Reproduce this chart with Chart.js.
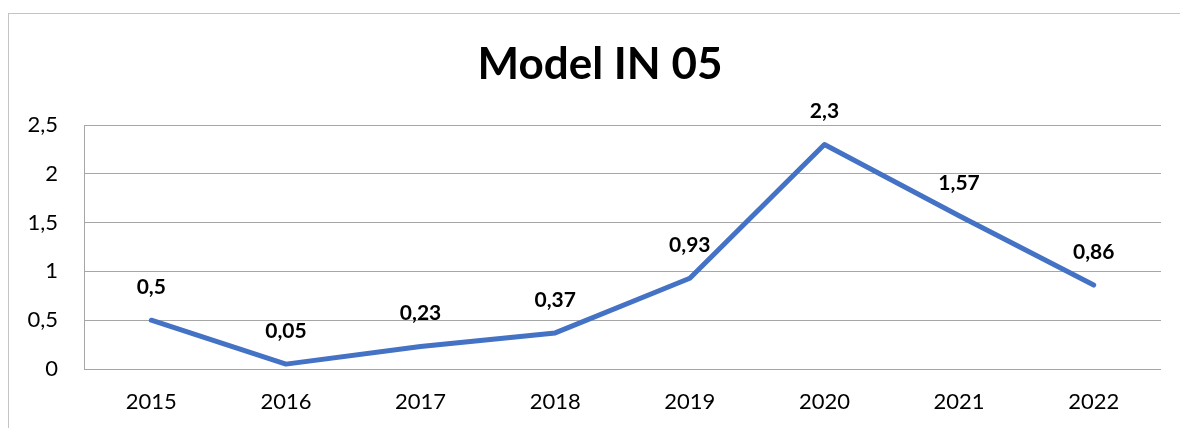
<!DOCTYPE html>
<html>
<head>
<meta charset="utf-8">
<script src="https://cdn.jsdelivr.net/npm/chart.js@4.4.1/dist/chart.umd.min.js"></script>
<style>
  html, body { margin: 0; padding: 0; background: #ffffff; overflow: hidden; }
  #wrap { position: relative; width: 1180px; height: 428px; }
  #frame { position: absolute; left: 8px; top: 13px; width: 1300px; height: 600px;
           border-left: 1px solid #c4c4c4; border-top: 1px solid #c4c4c4; box-sizing: border-box; }
  canvas { position: absolute; left: 0; top: 0; }
</style>
</head>
<body>
<div id="wrap">
  <div id="frame"></div>
  <canvas id="c" width="1180" height="428"></canvas>
</div>
<script>
const chartTitle = 'Model IN 05';
const years = ['2015', '2016', '2017', '2018', '2019', '2020', '2021', '2022'];
const values = [0.5, 0.05, 0.23, 0.37, 0.93, 2.3, 1.57, 0.86];
const yTickValues = [0, 0.5, 1, 1.5, 2, 2.5];
const yTickLabels = ['0', '0,5', '1', '1,5', '2', '2,5'];

const fontFamily = 'Lato, "Open Sans", "Liberation Sans", sans-serif';

const valueLabels = {
  id: 'valueLabels',
  afterDatasetsDraw(chart) {
    const ctx = chart.ctx;
    const meta = chart.getDatasetMeta(0);
    ctx.save();
    ctx.font = 'bold 21px ' + fontFamily;
    ctx.fillStyle = '#000000';
    ctx.textAlign = 'center';
    ctx.textBaseline = 'middle';
    meta.data.forEach((pt, i) => {
      const txt = String(values[i]).replace('.', ',');
      ctx.fillText(txt, pt.x, pt.y - 33);
    });
    ctx.restore();
  }
};

const titleDraw = {
  id: 'titleDraw',
  afterDraw(chart) {
    const ctx = chart.ctx;
    ctx.save();
    ctx.font = 'bold 44px ' + fontFamily;
    ctx.fillStyle = '#000000';
    ctx.textAlign = 'center';
    ctx.textBaseline = 'middle';
    ctx.fillText(chartTitle, 600, 65);
    ctx.restore();
  }
};

new Chart(document.getElementById('c'), {
  type: 'line',
  data: {
    labels: years,
    datasets: [{
      data: values,
      borderColor: '#4472c4',
      borderWidth: 5,
      borderCapStyle: 'round',
      borderJoinStyle: 'round',
      pointRadius: 0,
      pointHoverRadius: 0,
      tension: 0,
      fill: false
    }]
  },
  options: {
    responsive: false,
    animation: false,
    events: [],
    layout: { padding: { left: 0, right: 19, top: 125, bottom: 0 } },
    plugins: {
      legend: { display: false },
      tooltip: { enabled: false },
      title: { display: false }
    },
    scales: {
      x: {
        offset: true,
        grid: { display: false, drawTicks: false },
        border: { display: false },
        ticks: {
          color: '#000000',
          font: { family: fontFamily, size: 22 },
          padding: 20,
          maxRotation: 0
        },
        afterFit(scale) { scale.height = 59; }
      },
      y: {
        min: 0,
        max: 2.5,
        afterBuildTicks(scale) { scale.ticks = yTickValues.map(v => ({ value: v })); },
        grid: { color: '#a6a6a6', lineWidth: 1, drawTicks: false },
        border: { display: true, color: '#a6a6a6', width: 1 },
        ticks: {
          color: '#000000',
          font: { family: fontFamily, size: 22 },
          padding: 26,
          callback(value) {
            const i = yTickValues.indexOf(value);
            return i >= 0 ? yTickLabels[i] : '';
          }
        },
        afterFit(scale) { scale.width = 84; }
      }
    }
  },
  plugins: [valueLabels, titleDraw]
});
</script>
</body>
</html>
